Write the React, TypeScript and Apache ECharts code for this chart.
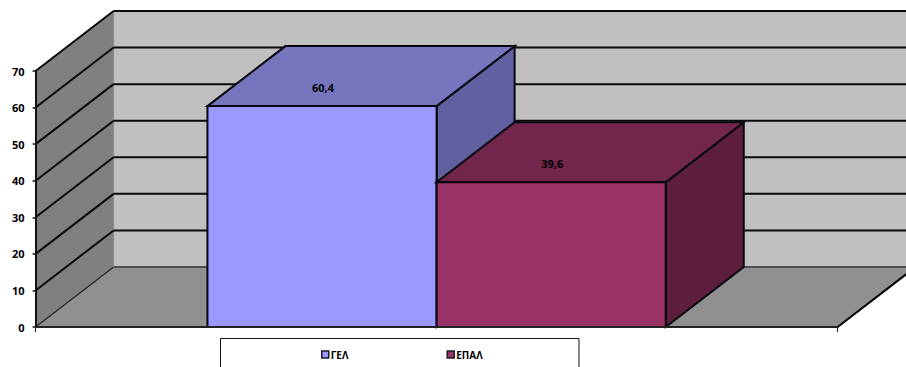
import React, { useEffect, useRef } from "react";
import * as echarts from "echarts";

const categories = ["ΓΕΛ", "ΕΠΑΛ"];
const values = [60.4, 39.6];
const valueLabels = ["60,4", "39,6"];
const yTicks = [10, 20, 30, 40, 50, 60, 70];

const frontColors = ["#9999ff", "#993366"];
const topColors = ["#7676bf", "#72264c"];
const sideColors = ["#6161a1", "#5e1f3f"];

// Oblique offset of the back plane of the 3D box, in pixels.
const DX = 78;
const DY = -60;
const X_MAX = 3.5;
const GAP = 0.75;
const FONT = "'Open Sans', 'Noto Sans', sans-serif";

const poly = (points: number[][], fill: string, stroke: string, lineWidth: number) => ({
  type: "polygon",
  shape: { points },
  style: { fill, stroke, lineWidth },
});

const seg = (a: number[], b: number[], stroke: string, lineWidth: number) => ({
  type: "line",
  shape: { x1: a[0], y1: a[1], x2: b[0], y2: b[1] },
  style: { stroke, lineWidth },
});

const back = (p: number[]) => [p[0] + DX, p[1] + DY];

// Left wall, back wall, floor and their gridlines.
const renderWalls = (_: unknown, api: any) => {
  const o = api.coord([0, 0]);
  const r = api.coord([X_MAX, 0]);
  const t = api.coord([0, 70]);
  const tr = api.coord([X_MAX, 70]);
  const children: any[] = [
    poly([back(o), back(r), back(tr), back(t)], "#c0c0c0", "none", 0),
    poly([o, back(o), back(t), t], "#808080", "none", 0),
    poly([o, r, back(r), back(o)], "#909090", "none", 0),
    seg(o, back(o), "#222222", 1.2),
    seg(back(o), back(r), "#505050", 1.8),
    seg(back(o), back(t), "#8a8a8a", 1),
    seg(r, back(r), "#000000", 2),
  ];
  yTicks.forEach((v) => {
    const p = api.coord([0, v]);
    children.push(seg(p, back(p), "#0a0a0a", 2));
    children.push(seg(back(p), back(api.coord([X_MAX, v])), "#0a0a0a", 2));
  });
  return { type: "group", children };
};

// One oblique box per category: side face, top face, front face and the value text.
const renderBox = (index: number) => (_: unknown, api: any) => {
  const value = values[index];
  const bl = api.coord([GAP + index, 0]);
  const br = api.coord([GAP + index + 1, 0]);
  const tl = api.coord([GAP + index, value]);
  const tr = api.coord([GAP + index + 1, value]);
  const stroke = "#06060e";
  return {
    type: "group",
    children: [
      poly([br, back(br), back(tr), tr], sideColors[index], stroke, 2),
      poly([tl, tr, back(tr), back(tl)], topColors[index], stroke, 2),
      poly([tl, tr, br, bl], frontColors[index], stroke, 2),
      {
        type: "text",
        x: (tl[0] + tr[0]) / 2 + 1,
        y: tl[1] - 19,
        style: {
          text: valueLabels[index],
          fill: "#000000",
          font: `700 11px ${FONT}`,
          align: "center",
          verticalAlign: "middle",
        },
      },
    ],
  };
};

export default function App() {
  const ref = useRef<HTMLDivElement>(null);

  useEffect(() => {
    const chart = echarts.init(ref.current!, undefined, { renderer: "svg" });
    chart.setOption({
      animation: false,
      backgroundColor: "#ffffff",
      grid: { left: 35.6, top: 71, width: 802, height: 256, containLabel: false },
      xAxis: {
        type: "value",
        min: 0,
        max: X_MAX,
        interval: X_MAX,
        z: 6,
        axisLine: { show: true, lineStyle: { color: "#222222", width: 2 } },
        axisTick: { show: true, length: 5, lineStyle: { color: "#333333", width: 1.2 } },
        axisLabel: { show: false },
        splitLine: { show: false },
      },
      yAxis: {
        type: "value",
        min: 0,
        max: 70,
        interval: 10,
        z: 6,
        axisLine: { show: true, onZero: false, lineStyle: { color: "#111111", width: 2 } },
        axisTick: { show: true, length: 3, lineStyle: { color: "#111111", width: 1.5 } },
        axisLabel: { margin: 11, fontFamily: FONT, fontWeight: 700, fontSize: 11, color: "#000000" },
        splitLine: { show: false },
      },
      legend: {
        left: 321,
        top: 349.5,
        padding: 0,
        itemWidth: 7,
        itemHeight: 7,
        itemGap: 98,
        icon: "rect",
        textStyle: { fontFamily: FONT, fontWeight: 700, fontSize: 10, color: "#000000", padding: [0, 0, 0, -3] },
        data: categories.map((name, i) => ({
          name,
          itemStyle: { color: frontColors[i], borderColor: "#1a1a2a", borderWidth: 1.5 },
        })),
      },
      graphic: [
        {
          type: "polyline",
          shape: { points: [[220.5, 367], [220.5, 338.5], [579, 338.5], [579, 367]] },
          style: { stroke: "#111111", lineWidth: 1, fill: "none" },
          silent: true,
        },
      ],
      series: [
        {
          type: "custom",
          name: "walls",
          coordinateSystem: "cartesian2d",
          data: [[0, 0]],
          renderItem: renderWalls,
          silent: true,
          z: 1,
        },
        ...categories.map((name, i) => ({
          type: "custom",
          name,
          coordinateSystem: "cartesian2d",
          data: [[GAP + i, values[i]]],
          itemStyle: { color: frontColors[i] },
          renderItem: renderBox(i),
          silent: true,
          z: 2 + i,
        })),
      ],
    });
    return () => chart.dispose();
  }, []);

  return <div ref={ref} style={{ position: "absolute", left: 0, top: 0, width: 906, height: 367 }} />;
}
